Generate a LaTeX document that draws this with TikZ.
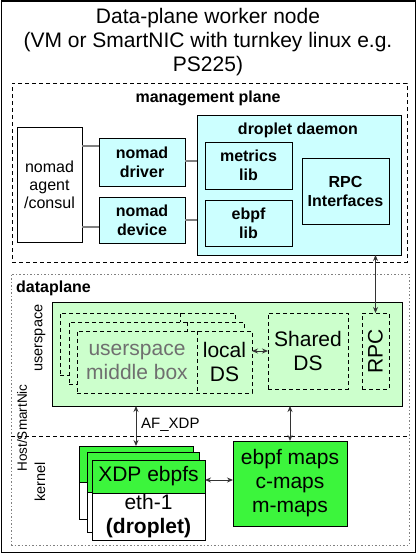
\documentclass[tikz,border=0pt]{standalone}
\usepackage{fontspec}
\setmainfont{Liberation Sans}
\usetikzlibrary{arrows.meta,calc}
\definecolor{cyanfill}{HTML}{CCFFFF}
\definecolor{lgreen}{HTML}{CCFFCC}
\definecolor{bgreen}{HTML}{3CF53C}
\definecolor{midgray}{HTML}{6F6F6F}
\definecolor{lgray}{HTML}{808080}
\tikzset{
  box/.style={draw=black, line width=1pt, inner sep=0pt, outer sep=0pt, anchor=north west, align=center},
  dbox/.style={box, dash pattern=on 4pt off 3pt},
  bflab/.style={font=\fontsize{16}{19}\selectfont\bfseries, align=center, inner sep=0pt},
  reglab/.style={font=\fontsize{16}{18}\selectfont, align=center},
  big/.style={font=\fontsize{21}{24}\selectfont, align=center, inner sep=0pt},
  side/.style={font=\fontsize{14.5}{16}\selectfont, rotate=90, inner sep=0pt},
  gline/.style={draw=lgray, line width=1.5pt},
  arr/.style={{Stealth[length=6pt,width=5pt]}-{Stealth[length=6pt,width=5pt]}, line width=0.9pt, draw=black!80},
}
\begin{document}
\begin{tikzpicture}[x=1pt,y=1pt]
\useasboundingbox (0,0) rectangle (417,-554);
% outer frame
\node[box, minimum width=414, minimum height=551] (outer) at (1,-1) {};
\node[font=\fontsize{21}{24}\selectfont, align=center, inner sep=0pt] (title) at (208,-42)
  {Data-plane worker node\\(VM or SmartNIC with turnkey linux e.g.\\PS225)};

% management plane
\node[dbox, minimum width=395, minimum height=179] (mgmt) at (12,-83) {};
\node[bflab] (mgmtlbl) at (208,-98) {management plane};
\node[box, fill=white, minimum width=65, minimum height=115, reglab] (agent) at (17,-127) {nomad\\agent\\/consul};
\node[box, fill=cyanfill, minimum width=86, minimum height=48, bflab] (driver) at (99,-138) {nomad\\driver};
\node[box, fill=cyanfill, minimum width=86, minimum height=46, bflab] (device) at (99,-197) {nomad\\device};
\node[box, fill=cyanfill, minimum width=204, minimum height=140] (daemon) at (197,-115) {};
\node[bflab] (daemonlbl) at (298,-130) {droplet daemon};
\node[box, fill=cyanfill, minimum width=87, minimum height=47, bflab] (metrics) at (205,-142) {metrics\\lib};
\node[box, fill=cyanfill, minimum width=87, minimum height=46, bflab] (ebpflib) at (205,-200) {ebpf\\lib};
\node[box, fill=cyanfill, minimum width=87, minimum height=66, bflab] (rpci) at (302,-158) {RPC\\Interfaces};

\draw[gline] (agent.east |- 0,-146) -- (driver.west |- 0,-146);
\draw[gline] (agent.east |- 0,-227) -- (device.west |- 0,-227);
\draw[gline] (driver.east |- 0,-161) -- (daemon.west |- 0,-161);
\draw[gline] (device.east |- 0,-220) -- (daemon.west |- 0,-220);

% dataplane
\node[box, draw=gray, dash pattern=on 1.5pt off 2pt, minimum width=398, minimum height=271] (dp) at (11,-274) {};
\node[bflab, anchor=west] (dplbl) at (16,-288) {dataplane};
\draw[black, line width=1pt, dash pattern=on 4pt off 3pt] (dp.west |- 0,-436) -- (dp.east |- 0,-436);

\node[box, fill=lgreen, minimum width=350, minimum height=104] (green) at (52,-302) {};
% stacked middle boxes
\node[dbox, fill=lgreen, minimum width=175, minimum height=62] (sback) at (60,-313) {};
\draw[dash pattern=on 4pt off 3pt, line width=1pt] ($(sback.north west)+(120,0)$) -- ($(sback.south west)+(120,0)$);
\node[dbox, fill=lgreen, minimum width=175, minimum height=62] (smid) at (69,-322) {};
\draw[dash pattern=on 4pt off 3pt, line width=1pt] ($(smid.north west)+(118,0)$) -- ($(smid.south west)+(118,0)$);
\node[dbox, fill=lgreen, minimum width=175, minimum height=62] (sfront) at (77,-331) {};
\draw[dash pattern=on 4pt off 3pt, line width=1pt] ($(sfront.north west)+(120,0)$) -- ($(sfront.south west)+(120,0)$);
\node[big, text=midgray] (usmb) at (137,-362) {userspace\\middle box};
\node[big] (lds) at (224.5,-362) {local\\DS};

\node[dbox, minimum width=80, minimum height=76, big] (shared) at (268,-313) {Shared\\DS};
\node[dbox, minimum width=27, minimum height=76] (rpc) at (362,-313) {};
\node[big, rotate=90] (rpclbl) at (rpc.center) {RPC};

\draw[arr] (sfront.east |- shared.west) -- (shared.west);
\draw[arr] (daemon.south -| rpc.north) -- (rpc.north);

% kernel
\node[box, fill=white, minimum width=114, minimum height=73] (xback) at (79,-446) {};
\node[box, fill=bgreen, minimum width=114, minimum height=36] (xbackt) at (79,-446) {};
\node[box, fill=white, minimum width=112, minimum height=80] (xmid) at (87,-452) {};
\node[box, fill=bgreen, minimum width=112, minimum height=40] (xmidt) at (87,-452) {};
\node[box, fill=white, minimum width=113, minimum height=80] (xfront) at (92,-460) {};
\node[box, fill=bgreen, minimum width=113, minimum height=33, big] (xfrontt) at (92,-460) {XDP ebpfs};
\node[big] (eth) at (148.5,-516.5) {eth-1\\\textbf{(droplet)}};

\node[box, fill=bgreen, minimum width=114, minimum height=85, big] (maps) at (233,-441) {ebpf maps\\c-maps\\m-maps};

\draw[arr] (green.south -| xback.north) -- (xback.north);
\node[font=\fontsize{15}{17}\selectfont, anchor=west, inner sep=0pt] (afxdp) at (141,-425) {AF\_XDP};
\draw[arr] (green.south -| maps.north) -- (maps.north);
\draw[arr] (xfront.east |- 0,-480) -- (maps.west |- 0,-480);

% side labels
\node[side, font=\fontsize{13.5}{15}\selectfont] (hs) at (22,-428) {Host/SmartNic};
\node[side] (us) at (40,-338) {userspace};
\node[side] (kn) at (40,-482) {kernel};
\end{tikzpicture}
\end{document}
